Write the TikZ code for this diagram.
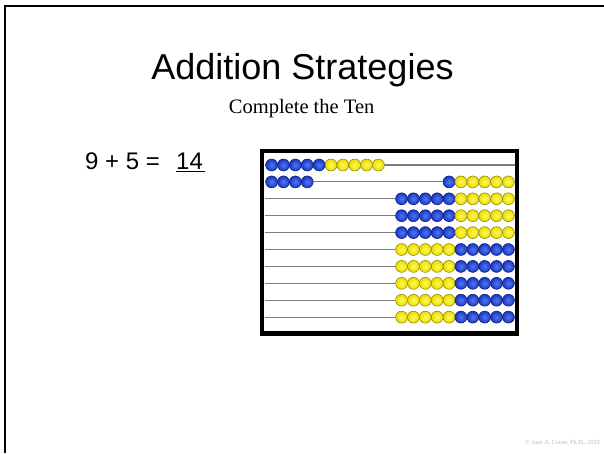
\documentclass[tikz,border=0pt]{standalone}
\usepackage{fontspec}
\setmainfont{Liberation Serif}
\newfontfamily\arialfont{Liberation Sans}
\begin{document}
\begin{tikzpicture}[x=1pt,y=-1pt,
  bead/.style={circle,inner sep=0pt,minimum size=11.9pt,line width=0.6pt},
  bluebead/.style={bead,draw={rgb,255:red,20;green,30;blue,120},
    inner color={rgb,255:red,80;green,120;blue,245},
    outer color={rgb,255:red,25;green,55;blue,195}},
  yellowbead/.style={bead,draw={rgb,255:red,150;green,140;blue,0},
    inner color={rgb,255:red,255;green,250;blue,90},
    outer color={rgb,255:red,235;green,220;blue,0}},
  rod/.style={draw={rgb,255:red,125;green,125;blue,125},line width=1.1pt},
  frame/.style={draw=black,line width=4.5pt},
  slideedge/.style={draw=black,line width=2.2pt},
  eqtext/.style={font=\arialfont\fontsize{24}{28}\selectfont,inner sep=0pt}]
\useasboundingbox (0,0) rectangle (604,453);
\fill[white] (0,0) rectangle (604,453);

% slide edge
\coordinate (tl) at (5,6);
\coordinate (tr) at (604,6);
\coordinate (bl) at (5,453);
\draw[slideedge] (bl) -- (tl) -- (tr);

% headings
\node[anchor=base,font=\arialfont\fontsize{36}{40}\selectfont,inner sep=0pt] (title) at (302.5,79) {Addition Strategies};
\node[anchor=base,font=\fontsize{20.5}{24}\selectfont,inner sep=0pt] (subtitle) at (301.6,113.3) {Complete the Ten};

% equation and its answer
\node[anchor=base west,eqtext] (sum) at (85,169.5) {9 + 5 =};
\node[anchor=base west,eqtext] (answer) at (176,169.5) {\underline{14\hspace{2pt}}};

% abacus rods
\foreach \r in {0,...,9}{
  \coordinate (rodL\r) at (264.5,165+16.9*\r);
  \coordinate (rodR\r) at (514.5,165+16.9*\r);
  \draw[rod] (rodL\r) -- (rodR\r);
}

% row 1: ten beads pushed left
\foreach \k in {0,...,4}{
  \node[bluebead] (a0l\k) at (271.6+11.87*\k,165) {};
  \node[yellowbead] (a0m\k) at (271.6+11.87*\k+59.35,165) {};
}
% row 2: four beads left, six right
\foreach \k in {0,...,3}{
  \node[bluebead] (a1l\k) at (271.6+11.87*\k,181.9) {};
}
\node[bluebead] (a1r5) at (508.4-11.87*5,181.9) {};
\foreach \k in {0,...,4}{
  \node[yellowbead] (a1r\k) at (508.4-11.87*\k,181.9) {};
}
% rows 3-5: blue then yellow, pushed right
\foreach \r in {2,3,4}{
  \foreach \k in {0,...,4}{
    \node[yellowbead] (y\r r\k) at (508.4-11.87*\k,165+16.9*\r) {};
    \node[bluebead] (b\r r\k) at (508.4-11.87*\k-59.35,165+16.9*\r) {};
  }
}
% rows 6-10: yellow then blue, pushed right
\foreach \r in {5,...,9}{
  \foreach \k in {0,...,4}{
    \node[bluebead] (b\r r\k) at (508.4-11.87*\k,165+16.9*\r) {};
    \node[yellowbead] (y\r r\k) at (508.4-11.87*\k-59.35,165+16.9*\r) {};
  }
}

% abacus frame
\coordinate (fa) at (262.2,150.8);
\coordinate (fb) at (516.8,333.6);
\draw[frame] (fa) rectangle (fb);

% credit line
\node[anchor=base east,font=\fontsize{6.2}{7}\selectfont,text={rgb,255:red,185;green,185;blue,185},inner sep=0pt] (credit) at (600,444) {© Joan A. Cotter, Ph.D., 2023};
\end{tikzpicture}
\end{document}
